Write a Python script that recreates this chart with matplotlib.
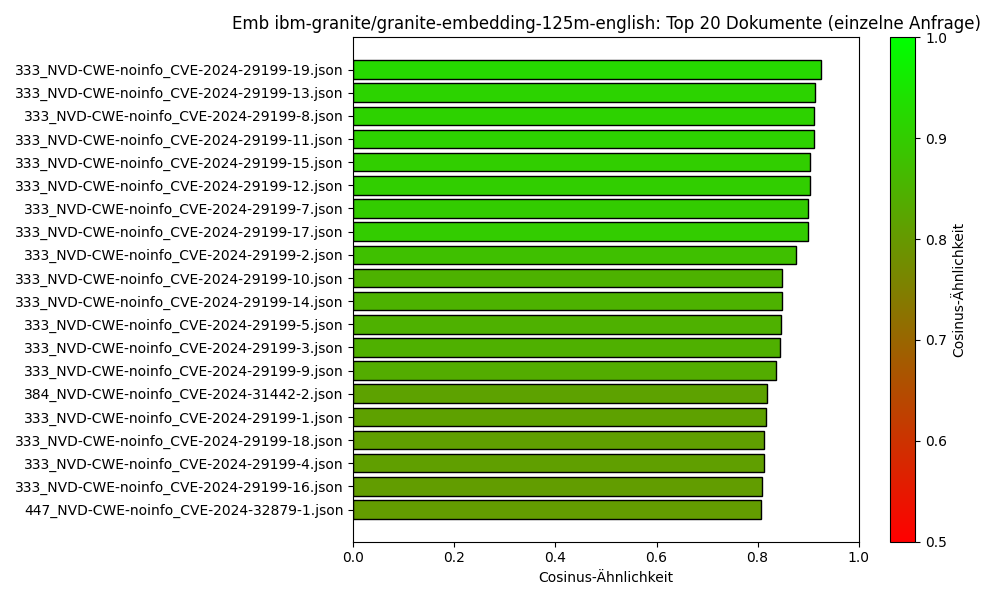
import matplotlib
matplotlib.use("Agg")
import matplotlib.pyplot as plt
from matplotlib.colors import LinearSegmentedColormap, Normalize
from matplotlib.cm import ScalarMappable

docs = [
    "333_NVD-CWE-noinfo_CVE-2024-29199-19.json",
    "333_NVD-CWE-noinfo_CVE-2024-29199-13.json",
    "333_NVD-CWE-noinfo_CVE-2024-29199-8.json",
    "333_NVD-CWE-noinfo_CVE-2024-29199-11.json",
    "333_NVD-CWE-noinfo_CVE-2024-29199-15.json",
    "333_NVD-CWE-noinfo_CVE-2024-29199-12.json",
    "333_NVD-CWE-noinfo_CVE-2024-29199-7.json",
    "333_NVD-CWE-noinfo_CVE-2024-29199-17.json",
    "333_NVD-CWE-noinfo_CVE-2024-29199-2.json",
    "333_NVD-CWE-noinfo_CVE-2024-29199-10.json",
    "333_NVD-CWE-noinfo_CVE-2024-29199-14.json",
    "333_NVD-CWE-noinfo_CVE-2024-29199-5.json",
    "333_NVD-CWE-noinfo_CVE-2024-29199-3.json",
    "333_NVD-CWE-noinfo_CVE-2024-29199-9.json",
    "384_NVD-CWE-noinfo_CVE-2024-31442-2.json",
    "333_NVD-CWE-noinfo_CVE-2024-29199-1.json",
    "333_NVD-CWE-noinfo_CVE-2024-29199-18.json",
    "333_NVD-CWE-noinfo_CVE-2024-29199-4.json",
    "333_NVD-CWE-noinfo_CVE-2024-29199-16.json",
    "447_NVD-CWE-noinfo_CVE-2024-32879-1.json",
]
scores = [0.925, 0.913, 0.911, 0.911, 0.903, 0.903, 0.899, 0.899, 0.875, 0.848,
          0.848, 0.846, 0.844, 0.836, 0.818, 0.816, 0.812, 0.812, 0.808, 0.806]

cmap = LinearSegmentedColormap.from_list("rg", ["#ff0000", "#00ff00"])
norm = Normalize(vmin=0.5, vmax=1.0)

fig, ax = plt.subplots(figsize=(10, 6), dpi=100)
y = list(range(len(docs)))
ax.barh(y, scores, color=[cmap(norm(s)) for s in scores], edgecolor="black")
ax.set_yticks(y)
ax.set_yticklabels(docs)
ax.invert_yaxis()
ax.set_xlim(0, 1.0)
ax.set_xlabel("Cosinus-Ähnlichkeit")
ax.set_title("Emb ibm-granite/granite-embedding-125m-english: Top 20 Dokumente (einzelne Anfrage)")

sm = ScalarMappable(norm=norm, cmap=cmap)
cb = fig.colorbar(sm, ax=ax)
cb.set_label("Cosinus-Ähnlichkeit")

plt.tight_layout()
plt.savefig("out.png")
